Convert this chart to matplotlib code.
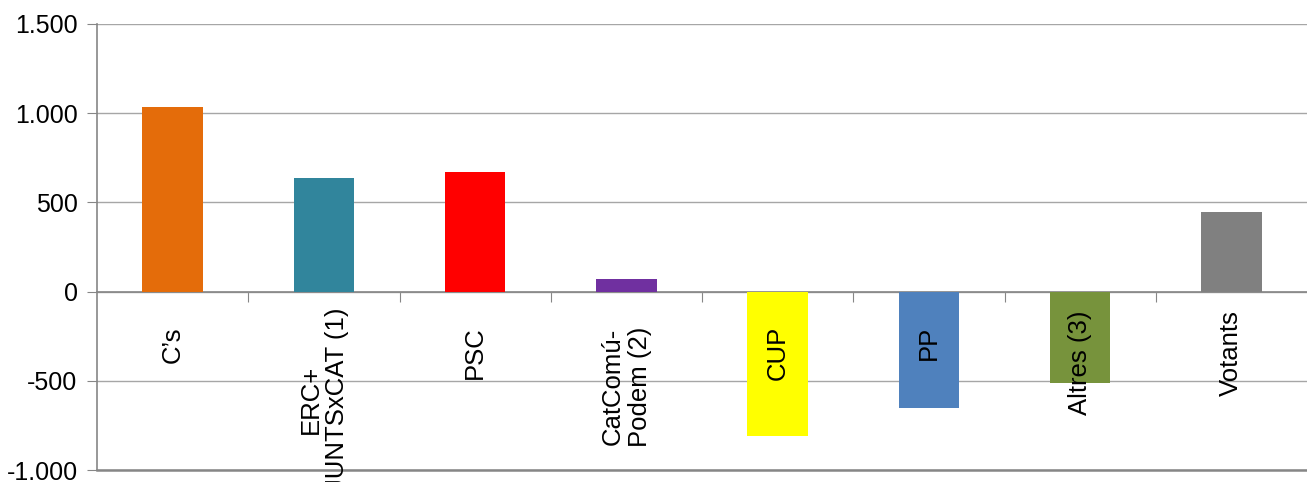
import matplotlib
matplotlib.use('Agg')
import matplotlib.pyplot as plt
from matplotlib.ticker import FuncFormatter
from matplotlib.transforms import offset_copy

# Data
parties = ['C\u2019s', 'ERC+\nJUNTSxCAT (1)', 'PSC', 'CatComú-\nPodem (2)',
           'CUP', 'PP', 'Altres (3)', 'Votants']
changes = [1036, 638, 672, 73, -812, -650, -515, 448]
colors = ['#E46C0A', '#31859C', '#FF0000', '#7030A0',
          '#FFFF00', '#4F81BD', '#77933C', '#808080']
y_ticks = [-1000, -500, 0, 500, 1000, 1500]

# label offsets below the zero line (pixels)
label_gap = [35, 16, 35, 35, 34, 34, 19, 19]

plt.rcParams['font.family'] = ['Liberation Sans', 'DejaVu Sans']

fig = plt.figure(figsize=(13.07, 4.82), dpi=100)
ax = fig.add_axes([97 / 1307, 1 - 470 / 482, 1 - 97 / 1307, (470 - 24) / 482])

x = list(range(len(parties)))
ax.bar(x, changes, width=0.4, color=colors, zorder=3)

ax.set_xlim(-0.5, len(parties) - 0.5)
ax.set_ylim(-1000, 1500)
ax.set_yticks(y_ticks)
ax.yaxis.set_major_formatter(FuncFormatter(lambda v, p: f'{int(v):,}'.replace(',', '.')))
ax.tick_params(axis='y', labelsize=18, length=7, color='#868686', pad=7)
ax.yaxis.grid(True, color='#a6a6a6', lw=1, zorder=0)
ax.set_axisbelow(True)

for s in ['top', 'right']:
    ax.spines[s].set_visible(False)
ax.spines['left'].set_color('#868686')
ax.spines['left'].set_linewidth(1.2)
ax.spines['bottom'].set_position(('data', 0))
ax.spines['bottom'].set_color('#868686')
ax.spines['bottom'].set_linewidth(1.2)
ax.spines['bottom'].set_zorder(2)
ax.axhline(-1000, color='#868686', lw=1.8, clip_on=False, zorder=2)

ax.set_xticks([i + 0.5 for i in range(len(parties) - 1)])
ax.set_xticklabels([])
ax.tick_params(axis='x', length=7, color='#868686', direction='out')

for i, name in enumerate(parties):
    tr = offset_copy(ax.transData, fig=fig, y=-label_gap[i], units='dots')
    ax.text(i, 0, name, transform=tr, rotation=90, ha='center', va='top',
            multialignment='center', fontsize=18.5, color='black', zorder=5,
            clip_on=False, linespacing=1.15)

fig.savefig('out.png', dpi=100)
